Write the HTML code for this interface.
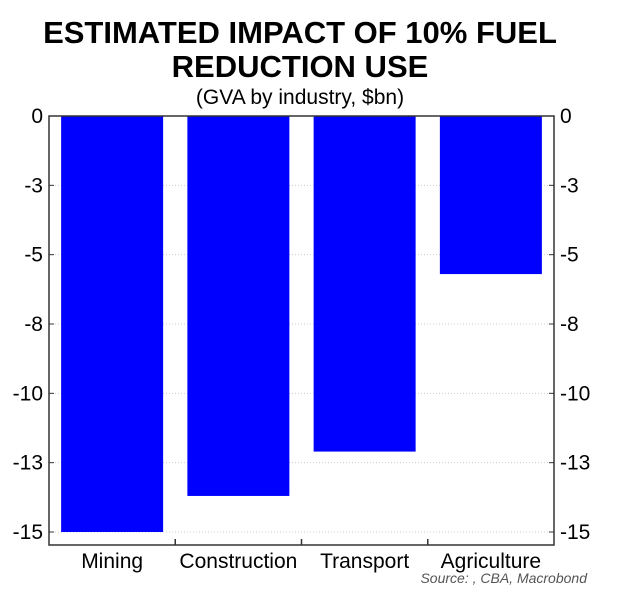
<!DOCTYPE html>
<html><head><meta charset="utf-8"><style>
body{margin:0;background:#fff;font-family:"Liberation Sans",Arial,sans-serif}
</style></head><body>
<svg width="620" height="603" viewBox="0 0 620 603" xmlns="http://www.w3.org/2000/svg">
<text x="300" y="43" text-anchor="middle" font-size="31" font-weight="bold">ESTIMATED IMPACT OF 10% FUEL</text>
<text x="300" y="77" text-anchor="middle" font-size="31" font-weight="bold">REDUCTION USE</text>
<text x="300" y="104" text-anchor="middle" font-size="21">(GVA by industry, $bn)</text>
<g id="grid"></g>
<g id="bars"></g>
<rect x="49" y="116" width="505" height="429" fill="none" stroke="#333" stroke-width="1.5"/>
<g id="axes"></g>
<text x="587" y="583" text-anchor="end" font-size="14" font-style="italic" fill="#555">Source: , CBA, Macrobond</text>
<script>
const categories=["Mining","Construction","Transport","Agriculture"];
const values=[-15.0,-13.7,-12.1,-5.7];
const tickValues=[0,-2.5,-5,-7.5,-10,-12.5,-15];
const tickLabels=["0","-3","-5","-8","-10","-13","-15"];
const NS="http://www.w3.org/2000/svg";
const x0=49,x1=554,yTop=116,yBot=532;
const y=v=>yTop+(0-v)/15*(yBot-yTop);
const bw=(x1-x0)/categories.length;
function mk(t,a,p){const e=document.createElementNS(NS,t);for(const k in a)e.setAttribute(k,a[k]);if(p)p.appendChild(e);return e;}
const grid=document.getElementById('grid'),bars=document.getElementById('bars'),axes=document.getElementById('axes');
tickValues.forEach((v,i)=>{
  const yy=y(v);
  if(i>0){const g=mk('line',{x1:x0,x2:x1,y1:yy,y2:yy,stroke:'#ccc','stroke-dasharray':'1,2'},grid);
  
  }
  const tl=mk('line',{x1:x0,x2:x0+5,y1:yy,y2:yy,stroke:'#333'},axes);
  
  
  const tr=mk('line',{x1:x1-5,x2:x1,y1:yy,y2:yy,stroke:'#333'},axes);
  
  
  const l=mk('text',{x:43,y:yy+7,'text-anchor':'end','font-size':21},axes);l.textContent=tickLabels[i];
  
  
  const r=mk('text',{x:560,y:yy+7,'text-anchor':'start','font-size':21},axes);r.textContent=tickLabels[i];
  
  
});
categories.forEach((c,i)=>{
  const cx=x0+bw*(i+0.5);
  const b=mk('rect',{x:cx-51,y:y(0),width:102,height:y(values[i])-y(0),fill:'#0000ff'},bars);
  
  
  const t=mk('text',{x:cx,y:568,'text-anchor':'middle','font-size':21},axes);t.textContent=c;
  
  
  if(i>0){const tk=mk('line',{x1:x0+bw*i,x2:x0+bw*i,y1:539,y2:545,stroke:'#333','stroke-width':1.5},axes);
  
  }
});
</script>
</svg>
</body></html>
